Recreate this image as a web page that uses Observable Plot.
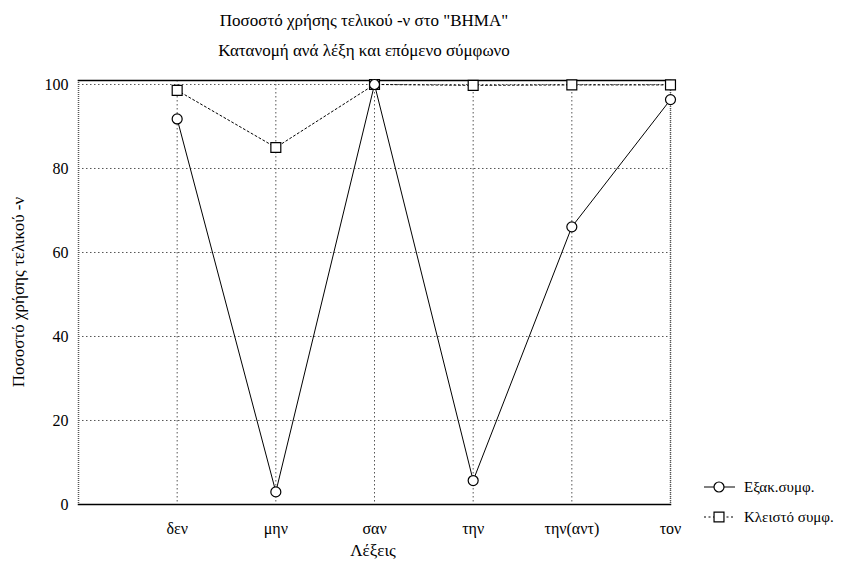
<!DOCTYPE html>
<html><head><meta charset="utf-8">
<script src="https://cdn.jsdelivr.net/npm/d3@7"></script>
<script src="https://cdn.jsdelivr.net/npm/@observablehq/plot@0.6"></script>
<style>
body{margin:0;background:#fff;font-family:"Liberation Serif","Times New Roman",Tinos,"DejaVu Serif",serif;}
#wrap{position:relative;width:849px;height:563px;}
.t{position:absolute;font-size:17px;color:#000;white-space:nowrap;line-height:1;}
</style></head>
<body><div id="wrap"></div>
<script>
const title = 'Ποσοστό χρήσης τελικού -ν στο "ΒΗΜΑ"';
const subtitle = "Κατανομή ανά λέξη και επόμενο σύμφωνο";
const xLabel = "Λέξεις";
const yLabel = "Ποσοστό χρήσης τελικού -ν";
const words = ["δεν", "μην", "σαν", "την", "την(αντ)", "τον"];
const seriesNames = ["Εξακ.συμφ.", "Κλειστό συμφ."];
const exak = [91.8, 3.0, 100, 5.7, 66.1, 96.4];
const kleisto = [98.6, 85.0, 100, 99.8, 99.9, 99.9];
const yTicks = [0, 20, 40, 60, 80, 100];

const FONT = '"Liberation Serif", "Times New Roman", Tinos, "DejaVu Serif", serif';
const pos = words.map((w, i) => i + 1);
const d1 = words.map((w, i) => ({x: i + 1, y: exak[i]}));
const d2 = words.map((w, i) => ({x: i + 1, y: kleisto[i]}));

const chart = Plot.plot({
  width: 849, height: 563,
  marginLeft: 78, marginRight: 179, marginTop: 80, marginBottom: 59,
  style: {fontFamily: FONT, fontSize: "16px", color: "#000", background: "#fff"},
  x: {domain: [0, 6], ticks: pos, tickFormat: d => words[d - 1], tickSize: 0, tickPadding: 18, label: null},
  y: {domain: [0, 100.95], ticks: yTicks, tickSize: 0, tickPadding: 10, label: null},
  marks: [
    Plot.ruleY(yTicks.filter(d => d > 0), {stroke: "#555", strokeDasharray: "1.5,2.5", strokeWidth: 1}),
    Plot.ruleX(pos, {stroke: "#555", strokeDasharray: "1.5,2.5", strokeWidth: 1}),
    Plot.ruleX([0, 6], {stroke: "#555", strokeDasharray: "1,1", strokeWidth: 1.5}),
    Plot.frame({anchor: "top", stroke: "#000", strokeWidth: 1.5}),
    Plot.frame({anchor: "bottom", stroke: "#000", strokeWidth: 1.5}),
    Plot.line(d2, {x: "x", y: "y", stroke: "#000", strokeWidth: 1, strokeDasharray: "2,2.5"}),
    Plot.line(d1, {x: "x", y: "y", stroke: "#000", strokeWidth: 1}),
    Plot.dot(d2, {x: "x", y: "y", symbol: "square", r: 5.6, fill: "#fff", stroke: "#000", strokeWidth: 1.2}),
    Plot.dot(d1, {x: "x", y: "y", symbol: "circle", r: 5, fill: "#fff", stroke: "#000", strokeWidth: 1.2})
  ]
});
const wrap = document.getElementById("wrap");
wrap.appendChild(chart);
chart.style.position = "absolute"; chart.style.left = "0"; chart.style.top = "0";

function addText(txt, x, y, extra) {
  const d = document.createElement("div");
  d.className = "t"; d.textContent = txt;
  d.style.left = x + "px"; d.style.top = y + "px";
  if (extra) Object.assign(d.style, extra);
  wrap.appendChild(d);
  return d;
}
addText(title, 364, 12, {transform: "translateX(-50%)"});
addText(subtitle, 364, 42, {transform: "translateX(-50%)"});
addText(xLabel, 373, 542, {transform: "translateX(-50%)"});
addText(yLabel, 18, 292, {transform: "translate(-50%,-50%) rotate(-90deg)"});

// legend
const leg = d3.select(wrap).append("svg").attr("width", 849).attr("height", 563)
  .style("position", "absolute").style("left", 0).style("top", 0).style("pointer-events", "none");
const legY = [487, 517];
const sym = [d3.symbol(d3.symbolCircle, Math.PI * 25), d3.symbol(d3.symbolSquare, Math.PI * 5.6 * 5.6)];
seriesNames.forEach((name, i) => {
  const g = leg.append("g").attr("transform", `translate(0,${legY[i]})`);
  g.append("line").attr("x1", 704).attr("x2", 735).attr("stroke", "#000")
    .attr("stroke-dasharray", i === 1 ? "2,2.5" : null);
  g.append("path").attr("d", sym[i]()).attr("transform", "translate(719,0)")
    .attr("fill", "#fff").attr("stroke", "#000").attr("stroke-width", 1.2);
  g.append("text").attr("x", 744).attr("y", 5).attr("font-family", FONT)
    .attr("font-size", 15).text(name);
});
</script></body></html>
